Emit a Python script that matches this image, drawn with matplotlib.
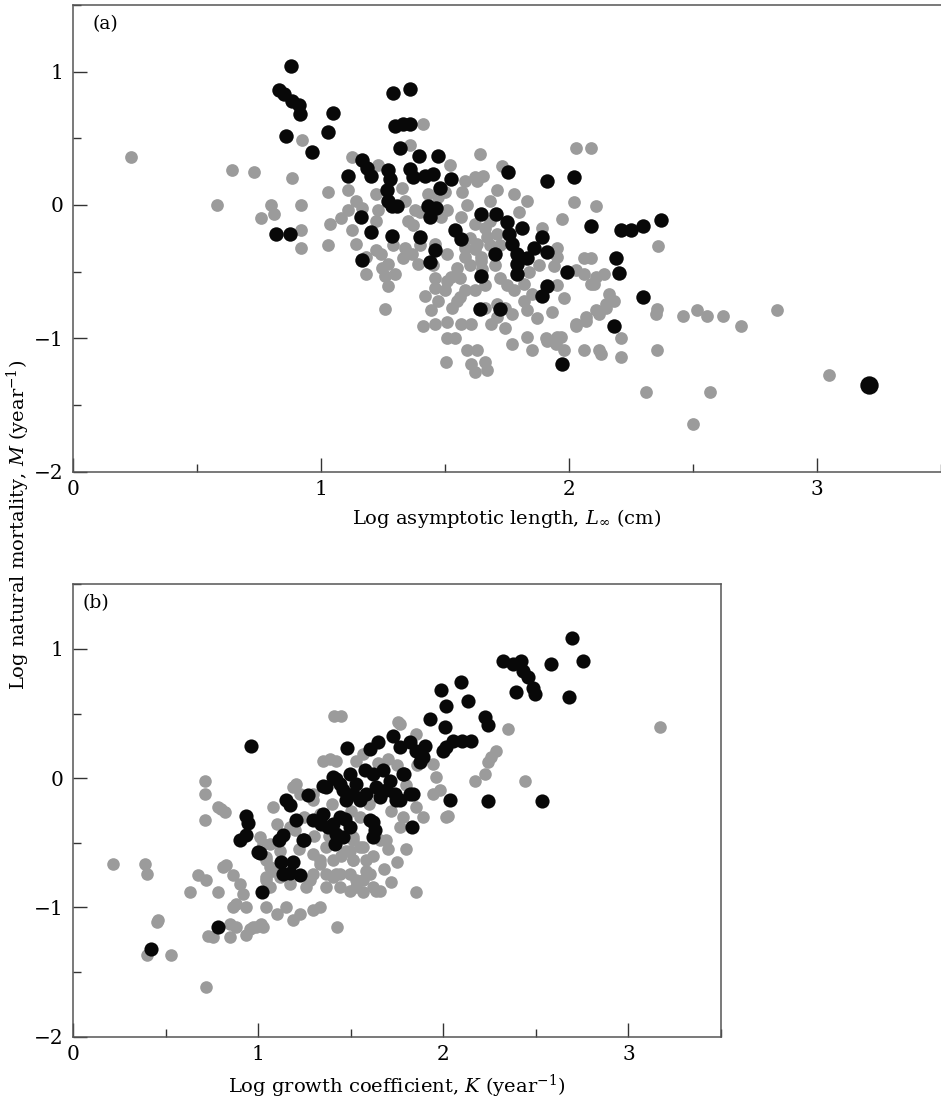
import numpy as np
import matplotlib
matplotlib.use("Agg")
import matplotlib.pyplot as plt
from matplotlib.ticker import MultipleLocator

plt.rcParams["font.family"] = ["DejaVu Serif"]
plt.rcParams["mathtext.fontset"] = "dejavuserif"

# ---- panel (a): log M against log L_inf ----
a_grey = [
    (0.235, 0.36), (0.64, 0.26), (0.73, 0.245), (0.58, 0.0), (0.76, -0.10), (0.80, 0.0),
    (0.81, -0.07), (0.92, 0.0), (0.92, -0.19), (0.92, -0.32), (0.885, 0.20), (0.925, 0.49),
    (1.03, 0.10), (1.035, -0.14), (1.03, -0.30),
    (1.125, 0.36), (1.11, 0.11), (1.14, 0.03), (1.11, -0.04), (1.165, -0.02), (1.22, 0.08),
    (1.23, -0.04), (1.22, -0.12), (1.125, -0.19), (1.14, -0.29), (1.18, -0.39), (1.22, -0.34),
    (1.245, -0.47), (1.18, -0.52), (1.26, -0.53), (1.30, -0.52), (1.27, -0.605), (1.26, -0.78),
    (1.24, -0.37), (1.27, -0.44), (1.34, -0.32), (1.365, -0.37), (1.39, -0.44),
    (1.41, 0.61), (1.325, 0.13), (1.34, 0.03), (1.38, -0.04), (1.35, -0.12),
    (1.42, -0.68), (1.46, -0.62), (1.47, -0.72), (1.445, -0.79), (1.50, -0.64),
    (1.41, -0.905), (1.46, -0.89), (1.51, -0.88), (1.565, -0.89), (1.605, -0.89),
    (1.51, -1.0), (1.54, -1.0), (1.505, -1.18), (1.59, -1.09), (1.63, -1.09), (1.605, -1.19),
    (1.66, -1.18), (1.67, -1.24), (1.62, -1.255),
    (1.525, -0.54), (1.55, -0.47), (1.58, -0.64), (1.55, -0.72), (1.47, 0.06), (1.485, -0.09),
    (1.51, -0.04), (1.565, -0.09), (1.62, -0.14), (1.59, 0.0), (1.63, 0.18), (1.58, 0.18),
    (1.46, -0.29), (1.51, -0.37), (1.58, -0.39), (1.63, -0.29), (1.645, -0.39),
    (1.46, -0.55), (1.51, -0.57), (1.56, -0.55), (1.62, -0.64), (1.56, -0.69), (1.53, -0.77),
    (1.685, -0.89), (1.71, -0.84), (1.74, -0.92), (1.77, -1.04), (1.83, -0.99), (1.85, -1.09),
    (1.91, -1.02), (1.95, -0.99), (1.98, -1.09), (2.06, -1.09), (2.12, -1.09),
    (2.03, -0.89), (2.07, -0.84), (2.11, -0.79), (2.15, -0.74),
    (1.77, -0.82), (1.83, -0.79), (1.85, -0.67), (1.82, -0.59),
    (2.09, -0.59), (2.11, -0.54), (2.14, -0.52),
    (1.66, -0.77), (1.71, -0.74), (1.74, -0.77), (1.78, -0.64), (1.82, -0.72),
    (1.64, 0.38), (1.73, 0.29), (1.62, 0.21), (1.655, 0.22), (2.03, 0.43), (2.09, 0.43),
    (1.78, 0.08), (1.71, 0.11), (1.68, 0.03), (2.02, 0.02), (2.11, -0.01), (1.97, -0.105),
    (1.89, -0.17), (1.95, -0.32), (1.95, -0.39), (2.36, -0.31),
    (1.66, -0.17), (1.67, -0.24), (1.71, -0.22), (1.645, -0.42),
    (2.06, -0.40), (2.09, -0.40), (2.06, -0.52), (2.10, -0.59), (2.03, -0.49),
    (2.16, -0.67), (2.18, -0.72), (2.15, -0.77), (2.12, -0.82), (2.07, -0.87), (2.03, -0.905),
    (2.355, -0.78), (2.35, -0.82), (2.46, -0.83), (2.515, -0.79), (2.555, -0.83), (2.62, -0.83),
    (2.695, -0.91), (2.84, -0.79),
    (2.21, -1.0), (2.21, -1.14), (2.13, -1.12), (2.355, -1.09), (2.31, -1.40), (2.57, -1.40),
    (2.50, -1.64), (3.05, -1.275),
    (1.60, -0.25), (1.62, -0.33), (1.65, -0.48), (1.60, -0.45), (1.68, -0.30), (1.70, -0.45),
    (1.72, -0.55), (1.66, -0.60), (1.58, -0.32), (1.68, -0.12), (1.72, -0.30), (1.75, -0.60),
    (1.84, -0.50), (1.88, -0.45), (1.94, -0.46), (1.95, -0.60), (1.98, -0.70), (1.93, -0.80),
    (1.87, -0.85), (1.80, -0.05), (1.83, 0.03), (1.57, 0.10), (1.37, -0.15), (1.40, -0.05),
    (1.43, 0.08), (1.36, 0.45), (1.52, 0.30), (1.23, 0.30), (1.50, 0.10), (1.40, -0.30),
    (1.33, -0.40), (1.45, -0.45), (1.29, -0.30), (1.08, -0.10),
    (1.906, -1.0), (1.947, -1.04), (1.967, -0.99),
]

a_black = [
    (0.88, 1.04), (0.83, 0.86), (0.85, 0.83), (0.885, 0.78), (0.91, 0.75), (0.915, 0.68),
    (0.86, 0.52), (0.965, 0.40), (1.03, 0.55), (1.05, 0.69), (0.82, -0.22), (0.875, -0.22),
    (1.29, 0.84), (1.36, 0.87), (1.30, 0.59), (1.33, 0.61), (1.36, 0.61), (1.32, 0.43),
    (1.395, 0.37), (1.47, 0.37), (1.165, 0.34), (1.185, 0.28), (1.20, 0.22), (1.11, 0.22),
    (1.27, 0.26), (1.28, 0.195), (1.265, 0.11), (1.27, 0.03), (1.285, -0.005), (1.305, -0.005),
    (1.36, 0.27), (1.37, 0.21), (1.42, 0.22), (1.45, 0.23), (1.48, 0.13), (1.525, 0.195),
    (1.43, -0.005), (1.465, -0.02), (1.44, -0.09), (1.16, -0.09), (1.20, -0.20), (1.285, -0.23),
    (1.40, -0.24), (1.54, -0.19), (1.565, -0.255), (1.165, -0.41), (1.46, -0.34), (1.44, -0.43),
    (1.645, -0.07), (1.705, -0.07), (1.645, -0.53), (1.755, 0.245), (1.91, 0.18), (2.02, 0.21),
    (1.75, -0.13), (1.81, -0.17), (1.76, -0.22), (1.77, -0.29), (1.79, -0.37), (1.79, -0.44),
    (1.79, -0.52), (1.70, -0.37), (1.83, -0.40), (1.89, -0.24), (1.91, -0.355), (1.86, -0.32),
    (1.99, -0.50), (1.91, -0.605), (1.89, -0.68), (2.09, -0.155), (2.21, -0.19), (2.25, -0.19),
    (2.30, -0.155), (2.37, -0.11), (2.19, -0.40), (2.20, -0.51), (2.30, -0.69),
    (1.64, -0.78), (1.72, -0.78), (2.18, -0.91), (1.97, -1.19),
]
a_black_big = [(3.21, -1.35)]

# ---- panel (b): log M against log K ----
b_grey = [
    (0.218, -0.667), (0.389, -0.66), (0.398, -0.74), (0.46, -1.10), (0.398, -1.37),
    (0.527, -1.37), (0.716, -1.616), (0.631, -0.88), (0.712, -0.018), (0.712, -0.12),
    (0.712, -0.327), (0.784, -0.224), (0.82, -0.263), (0.676, -0.75), (0.72, -0.79),
    (0.784, -0.88), (0.829, -0.675), (0.865, -0.75), (0.90, -0.82), (0.883, -0.97),
    (0.865, -0.997), (0.937, -0.997), (0.973, -1.15), (0.937, -1.216), (0.847, -1.126),
    (0.757, -1.23), (0.847, -1.23), (1.018, -1.126), (1.045, -0.997), (1.10, -1.05),
    (1.153, -0.997), (1.19, -1.10), (1.225, -1.05), (1.297, -1.02), (1.333, -0.997),
    (1.428, -1.152), (1.639, -0.87), (1.567, -0.88), (1.495, -0.87), (1.855, -0.88),
    (1.081, -0.224), (1.10, -0.353), (1.063, -0.507), (1.027, -0.507), (1.045, -0.61),
    (1.063, -0.688), (1.045, -0.79), (1.19, -0.07), (1.225, -0.12),
    (1.297, -0.17), (1.333, -0.275), (1.297, -0.585), (1.333, -0.662), (1.279, -0.79),
    (1.369, -0.84), (1.405, -0.766), (1.441, -0.84), (1.495, -0.74), (1.513, -0.636),
    (1.369, -0.74), (1.423, -0.74), (1.495, -0.56), (1.513, -0.48), (1.567, -0.53),
    (1.585, -0.636), (1.603, -0.74), (1.567, -0.79), (1.531, -0.79),
    (1.39, 0.15), (1.423, 0.137), (1.531, 0.137), (1.567, 0.19), (1.765, 0.42), (1.855, 0.343),
    (1.944, 0.11), (1.963, 0.008), (1.944, -0.12), (2.025, -0.29), (1.855, -0.224), (1.89, -0.30),
    (1.657, -0.48), (1.693, -0.48), (1.765, -0.379),
    (3.168, 0.394), (2.35, 0.382), (2.287, 0.214), (2.26, 0.162), (2.24, 0.124), (2.223, 0.034),
    (2.17, -0.018), (2.44, -0.023), (1.41, 0.485), (1.45, 0.485), (1.756, 0.433), (1.35, 0.137),
    (1.98, -0.095), (2.017, -0.30),
    (0.80, -0.237), (0.452, -1.11), (0.73, -1.217), (0.883, -1.152), (0.955, -1.165),
    (0.991, -1.152), (1.027, -1.152), (0.919, -0.894), (0.811, -0.688),
    (1.045, -0.636), (1.081, -0.714), (1.045, -0.766), (1.063, -0.843), (1.117, -0.766),
    (1.171, -0.817), (1.261, -0.843), (1.297, -0.74), (1.333, -0.636), (1.369, -0.533),
    (1.405, -0.636), (1.441, -0.74), (1.513, -0.636), (1.531, -0.843), (1.621, -0.843),
    (1.657, -0.87), (1.585, -0.714), (1.548, -0.533), (1.513, -0.456), (1.477, -0.56),
    (1.207, -0.043), (1.297, -0.12), (1.01, -0.456), (1.117, -0.56),
    (1.65, 0.12), (1.70, 0.15), (1.75, 0.10), (1.80, -0.05), (1.72, -0.25), (1.78, -0.30),
    (1.70, -0.55), (1.62, -0.60), (1.75, -0.65), (1.80, -0.55), (1.68, -0.70), (1.72, -0.80),
    (1.20, -0.40), (1.25, -0.30), (1.30, -0.45), (1.22, -0.55), (1.17, -0.38), (1.38, -0.45),
    (1.45, -0.60), (1.40, -0.20), (1.55, -0.30), (1.50, -0.25), (1.60, -0.20), (1.86, 0.10),
]

b_black = [
    (0.96, 0.253), (0.937, -0.29), (0.946, -0.35), (0.90, -0.48), (0.937, -0.44), (1.01, -0.58),
    (1.02, -0.88), (0.784, -1.15), (0.42, -1.32), (1.153, -0.17), (1.17, -0.21), (1.207, -0.327),
    (1.11, -0.48), (1.135, -0.44), (1.126, -0.65), (1.19, -0.65), (1.135, -0.74), (1.17, -0.73),
    (1.225, -0.75), (1.247, -0.48), (1.27, -0.126),
    (1.297, -0.327), (1.342, -0.353), (1.378, -0.379), (1.405, -0.353), (1.423, -0.43),
    (1.414, -0.507), (1.459, -0.456), (1.468, -0.314), (1.495, -0.379),
    (1.35, -0.064), (1.423, -0.005), (1.48, 0.232), (1.495, 0.034), (1.531, -0.043),
    (1.513, -0.12), (1.548, -0.17), (1.459, -0.095), (1.477, -0.17),
    (1.603, 0.227), (1.648, 0.278), (1.73, 0.33),
    (1.576, 0.06), (1.621, 0.034), (1.675, 0.06), (1.711, -0.018), (1.639, -0.07), (1.693, -0.095),
    (1.585, -0.12), (1.738, -0.12), (1.765, -0.17), (1.837, -0.12),
    (1.603, -0.327), (1.63, -0.40), (1.62, -0.456), (1.833, -0.379), (1.79, 0.034),
    (1.765, 0.24), (1.82, 0.278), (1.855, 0.214), (1.89, 0.162), (1.90, 0.253), (1.873, 0.124),
    (1.927, 0.46), (1.99, 0.68), (2.017, 0.56), (2.008, 0.394), (1.998, 0.214), (2.017, 0.24),
    (2.05, 0.29), (2.10, 0.29), (2.15, 0.29), (2.098, 0.742), (2.035, -0.17), (2.133, 0.60),
    (2.697, 1.083), (2.754, 0.91), (2.583, 0.885), (2.68, 0.626),
    (2.322, 0.91), (2.376, 0.885), (2.421, 0.91), (2.43, 0.833), (2.457, 0.78), (2.484, 0.70),
    (2.493, 0.653), (2.394, 0.665), (2.223, 0.472), (2.241, 0.408), (2.241, -0.178), (2.535, -0.178),
    (1.405, 0.008), (1.369, -0.07), (1.441, -0.043), (1.783, 0.034), (1.819, -0.12),
    (1.747, -0.17), (1.657, -0.146), (1.35, -0.275), (1.44, -0.30), (1.62, -0.34),
    (1.0, -0.573), (1.243, -0.48),
]

x_major = [0, 1, 2, 3]
y_major = [-2, -1, 0, 1]
x_labels = ["0", "1", "2", "3"]
y_labels = ["\u22122", "\u22121", "0", "1"]

GREY = "#9b9b9b"
BLACK = "#080808"
SPINE = "#555555"

fig = plt.figure(figsize=(9.41, 11.0), dpi=100)
ax_a = fig.add_axes([0.0776, 0.5712, 0.9224, 0.4243])
ax_b = fig.add_axes([0.0776, 0.0575, 0.6886, 0.4113])


def scatter(ax, pts, color, size):
    xy = np.array(pts).T
    ax.scatter(xy[0], xy[1], s=size, c=color, linewidths=0, zorder=3)


scatter(ax_a, a_grey, GREY, 84)
scatter(ax_a, a_black, BLACK, 108)
scatter(ax_a, a_black_big, BLACK, 175)
scatter(ax_b, b_grey, GREY, 82)
scatter(ax_b, b_black, BLACK, 104)

for ax in (ax_a, ax_b):
    ax.set_xlim(0, 3.5)
    ax.set_ylim(-2, 1.5)
    ax.set_xticks(x_major)
    ax.set_xticklabels(x_labels)
    ax.set_yticks(y_major)
    ax.set_yticklabels(y_labels)
    ax.xaxis.set_minor_locator(MultipleLocator(0.5))
    ax.yaxis.set_minor_locator(MultipleLocator(0.5))
    ax.tick_params(which="both", direction="in", top=False, right=False,
                   color="#333333", width=1.0, labelsize=14.5)
    ax.tick_params(which="major", length=10)
    ax.tick_params(which="minor", length=6)
    ax.tick_params(axis="x", pad=6)
    ax.tick_params(axis="y", pad=7)
    for sp in ax.spines.values():
        sp.set_color(SPINE)
        sp.set_linewidth(1.1)

ax_a.spines["right"].set_visible(False)

ax_a.set_xlabel(r"Log asymptotic length, $L_{\infty}$ (cm)", fontsize=14, labelpad=6)
ax_b.set_xlabel(r"Log growth coefficient, $K$ (year$^{-1}$)", fontsize=14, labelpad=6)
fig.text(0.020, 0.523, r"Log natural mortality, $M$ (year$^{-1}$)", rotation=90,
         ha="center", va="center", fontsize=14)

ax_a.text(0.023, 0.978, "(a)", transform=ax_a.transAxes, ha="left", va="top", fontsize=13.5)
ax_b.text(0.015, 0.978, "(b)", transform=ax_b.transAxes, ha="left", va="top", fontsize=13.5)

fig.savefig("out.png", dpi=100)
